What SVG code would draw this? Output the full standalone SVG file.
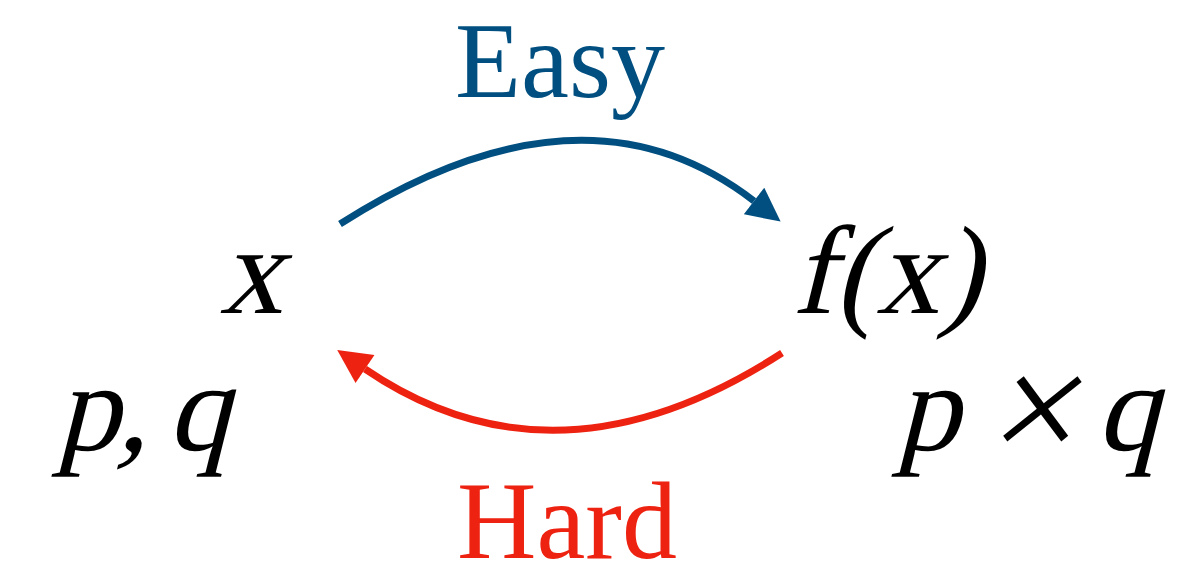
<svg xmlns="http://www.w3.org/2000/svg" width="1204" height="571" viewBox="0 0 1204 571">
<style>
.t{font-family:"Liberation Serif","Times New Roman",serif;}
.m{font-family:"Liberation Serif","Times New Roman",serif;font-size:126px;fill:#000;}
.c{fill:none;stroke-width:7;}
</style>
<defs>
<marker id="ab" viewBox="0 0 10 10" refX="0" refY="5" markerWidth="4.9" markerHeight="4.8" orient="auto" markerUnits="strokeWidth"><path d="M0,0L10,5L0,10z" fill="#004f80"/></marker>
<marker id="ar" viewBox="0 0 10 10" refX="0" refY="5" markerWidth="4.9" markerHeight="4.8" orient="auto" markerUnits="strokeWidth"><path d="M0,0L10,5L0,10z" fill="#ee2211"/></marker>
</defs>
<g id="connectors">
<path class="c" d="M340,224 Q583,69 754,201" stroke="#004f80" marker-end="url(#ab)"/>
<path class="c" d="M782,353 Q556,499 365,369" stroke="#ee2211" marker-end="url(#ar)"/>
</g>
<g id="label-easy"><text class="t" x="560" y="97" font-size="108" fill="#004f80" text-anchor="middle">Easy</text></g>
<g id="label-hard"><text class="t" x="567" y="558" font-size="110" fill="#ee2211" text-anchor="middle">Hard</text></g>
<g id="node-x"><text class="m" transform="translate(0,313) skewX(-14)" x="251" y="0" text-anchor="middle">x</text></g>
<g id="node-fx"><text class="m" transform="translate(0,313) skewX(-14)" x="792" y="0">f(x)</text></g>
<g id="node-pq"><text class="m" transform="translate(0,450) skewX(-14)" y="0"><tspan x="56">p</tspan><tspan x="117">,</tspan><tspan x="167">q</tspan></text></g>
<g id="node-ptq"><text class="m" transform="translate(0,450) skewX(-14)" y="0"><tspan x="896">p</tspan><tspan x="987" dy="12" font-size="160">×</tspan><tspan x="1096" dy="-12">q</tspan></text></g>
</svg>
